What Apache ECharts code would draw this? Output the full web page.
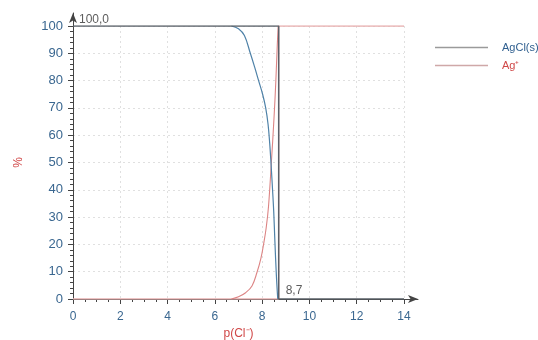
<!DOCTYPE html>
<html>
<head>
<meta charset="utf-8">
<script src="https://cdn.jsdelivr.net/npm/echarts@6/dist/echarts.min.js"></script>
<style>
html,body{margin:0;padding:0;background:#fff;}
#c{width:538px;height:340px;}
</style>
</head>
<body>
<div id="c"></div>
<script>
// ---- data ----
const stepX = [0, 8.7, 8.7, 14];
const agclStep = [100, 100, 0, 0];
const agStep = [0, 0, 100, 100];

const agclCurveX = [6.7, 7.0, 7.25, 7.5, 7.68, 7.85, 8.02, 8.15, 8.25, 8.32, 8.38, 8.44, 8.49, 8.54, 8.6, 8.66];
const agclCurveY = [100, 99, 96.5, 90, 85, 80, 75, 70, 64, 57, 49, 40, 32, 21, 9, 0];

const agCurveX = [6.7, 7.0, 7.3, 7.57, 7.78, 7.95, 8.06, 8.17, 8.27, 8.39, 8.5, 8.58, 8.64, 8.68];
const agCurveY = [0, 0.8, 2.3, 4.8, 9.7, 15, 20, 26, 34, 50, 66, 80, 93, 100];

const topMarkX = [0];
const topMarkY = [100.0];
const endMarkX = [8.7];
const endMarkY = [0];

const seriesNames = ['AgCl(s)', 'Ag\u207A'];
const xName = 'p(Cl\u207B)';
const yName = '%';

// ---- build ----
const zip = (xs, ys) => xs.map((x, i) => [x, ys[i]]);
const fmt = v => v.toFixed(1).replace('.', ',');
const FONT = 'Liberation Sans, Arial, sans-serif';
const tickColor = '#3a6790';
const axisColor = '#444';
const gridLine = {show: true, lineStyle: {color: '#e0e0e0', type: [2, 3], width: 1}};

const chart = echarts.init(document.getElementById('c'));
chart.setOption({
  animation: false,
  backgroundColor: '#fff',
  grid: [
    {left: 73, right: 134, top: 26, bottom: 41, containLabel: false, outerBoundsMode: 'none'},
    {left: 73, right: 120, top: 13, bottom: 41, containLabel: false, outerBoundsMode: 'none'}
  ],
  legend: {
    orient: 'vertical', left: 430, top: 37, icon: 'rect', itemWidth: 53, itemHeight: 1.3, itemGap: 7,
    textStyle: {fontFamily: FONT, fontSize: 11, padding: [0, 0, 0, 9]},
    data: [
      {name: seriesNames[0], itemStyle: {color: '#9a9a9a'}, textStyle: {color: '#2f5f8f'}},
      {name: seriesNames[1], itemStyle: {color: '#cfa8a8'}, textStyle: {color: '#d04848'}}
    ]
  },
  xAxis: [
    {
      type: 'value', gridIndex: 0, min: 0, max: 14, interval: 2,
      name: xName, nameLocation: 'middle', nameGap: 29,
      nameTextStyle: {color: '#d04848', fontFamily: FONT, fontSize: 12},
      axisLine: {show: false, onZero: false},
      axisTick: {show: true, length: 5, lineStyle: {color: axisColor}},
      minorTick: {show: true, splitNumber: 4, length: 3, lineStyle: {color: axisColor}},
      axisLabel: {color: tickColor, fontFamily: FONT, fontSize: 12, margin: 12},
      splitLine: gridLine
    },
    {
      type: 'value', gridIndex: 1, min: 0, max: 1,
      axisLine: {show: true, onZero: false, symbol: ['none', 'arrow'], symbolSize: [6, 10], lineStyle: {color: axisColor, width: 1}},
      axisTick: {show: false}, axisLabel: {show: false}, splitLine: {show: false}
    }
  ],
  yAxis: [
    {
      type: 'value', gridIndex: 0, min: 0, max: 100, interval: 10,
      name: yName, nameLocation: 'middle', nameGap: 48,
      nameTextStyle: {color: '#d04848', fontFamily: FONT, fontSize: 12},
      axisLine: {show: false, onZero: false},
      axisTick: {show: true, length: 5, lineStyle: {color: axisColor}},
      minorTick: {show: true, splitNumber: 5, length: 3, lineStyle: {color: axisColor}},
      axisLabel: {color: tickColor, fontFamily: FONT, fontSize: 13, margin: 10},
      splitLine: gridLine
    },
    {
      type: 'value', gridIndex: 1, min: 0, max: 1,
      axisLine: {show: true, onZero: false, symbol: ['none', 'arrow'], symbolSize: [6, 10], lineStyle: {color: axisColor, width: 1}},
      axisTick: {show: false}, axisLabel: {show: false}, splitLine: {show: false}
    }
  ],
  series: [
    {
      name: seriesNames[1], type: 'line', xAxisIndex: 0, yAxisIndex: 0,
      data: zip(stepX, agStep), symbol: 'none',
      lineStyle: {color: '#e8b0b0', width: 1.3}, itemStyle: {color: '#e8b0b0'}, z: 2
    },
    {
      name: seriesNames[1], type: 'line', xAxisIndex: 0, yAxisIndex: 0,
      data: zip(agCurveX, agCurveY), symbol: 'none', smooth: 0.4,
      lineStyle: {color: '#dc8484', width: 1.1}, itemStyle: {color: '#dc8484'}, z: 3
    },
    {
      name: seriesNames[0], type: 'line', xAxisIndex: 0, yAxisIndex: 0,
      data: zip(agclCurveX, agclCurveY), symbol: 'none', smooth: 0.4,
      lineStyle: {color: '#4f82a8', width: 1.2}, itemStyle: {color: '#4f82a8'}, z: 4
    },
    {
      name: seriesNames[0], type: 'line', xAxisIndex: 0, yAxisIndex: 0,
      data: zip(stepX, agclStep), symbol: 'none',
      lineStyle: {color: '#5a6068', width: 1.5}, itemStyle: {color: '#5a6068'}, z: 5
    },
    {
      type: 'scatter', xAxisIndex: 0, yAxisIndex: 0, symbolSize: 0, silent: true, z: 6,
      data: zip(topMarkX, topMarkY),
      label: {show: true, position: 'right', distance: 5, offset: [1, -6], color: '#333',
              fontFamily: FONT, fontSize: 12, formatter: p => fmt(p.value[1])}
    },
    {
      type: 'scatter', xAxisIndex: 0, yAxisIndex: 0, symbolSize: 0, silent: true, z: 6,
      data: zip(endMarkX, endMarkY),
      label: {show: true, position: 'right', distance: 5, offset: [2, -8], color: '#333',
              fontFamily: FONT, fontSize: 12, formatter: p => fmt(p.value[0])}
    }
  ]
});
</script>
</body>
</html>
